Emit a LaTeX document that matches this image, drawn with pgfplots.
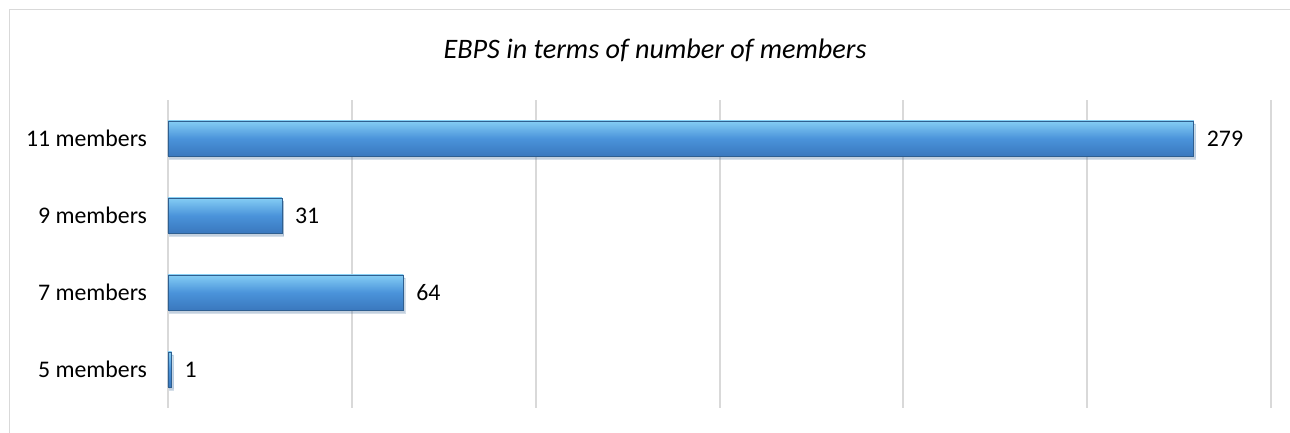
\documentclass[border=0pt]{standalone}
\usepackage{fontspec}
\setmainfont{Carlito}
\usepackage{pgfplots}
\pgfplotsset{compat=1.18}
\usetikzlibrary{shadows}

\definecolor{gridgray}{HTML}{D9D9D9}
\definecolor{barTop}{HTML}{84CDF4}
\definecolor{barMid}{HTML}{4A93DA}
\definecolor{barBot}{HTML}{3A78BE}
\definecolor{barEdge}{HTML}{2F5F90}

\begin{document}
\begin{tikzpicture}
\useasboundingbox (0,0) rectangle (645pt,216.5pt);
% outer chart frame (only left and top edges are in view)
\draw[gridgray,line width=0.7pt] (4.6pt,0) -- (4.6pt,211.6pt) -- (645pt,211.6pt);
\node[font=\itshape\fontsize{14.1}{17}\selectfont] at (327.5pt,191.5pt)
  {EBPS in terms of number of members};
\begin{axis}[
  at={(84pt,12.5pt)}, anchor=south west,
  width=551.5pt, height=154pt, scale only axis,
  xbar, bar width=17.5pt, bar shift=0pt,
  xmin=0, xmax=300, ymin=-0.5, ymax=3.5,
  xtick={0,50,...,300}, xticklabels={},
  ytick={0,1,2,3},
  yticklabels={5 members,7 members,9 members,11 members},
  yticklabel style={font=\fontsize{11.9}{14}\selectfont, xshift=-7pt},
  major tick length=0pt,
  axis line style={draw=none},
  xmajorgrids, grid style={gridgray,line width=1pt},
  /pgf/number format/assume math mode=true,
  nodes near coords,
  nodes near coords style={font=\fontsize{11.9}{14}\selectfont, black, anchor=west, xshift=3pt},
  ebar/.style={draw=barEdge, line width=0.4pt,
    top color=barTop, bottom color=barBot, middle color=barMid,
    drop shadow={opacity=0.2, shadow xshift=0.8pt, shadow yshift=-1.5pt}},
]
% one plot per bar so that each bar gets its own shading
\addplot[ebar] coordinates {(1,0)};
\addplot[ebar] coordinates {(64,1)};
\addplot[ebar] coordinates {(31,2)};
\addplot[ebar] coordinates {(279,3)};
\end{axis}
\end{tikzpicture}
\end{document}
